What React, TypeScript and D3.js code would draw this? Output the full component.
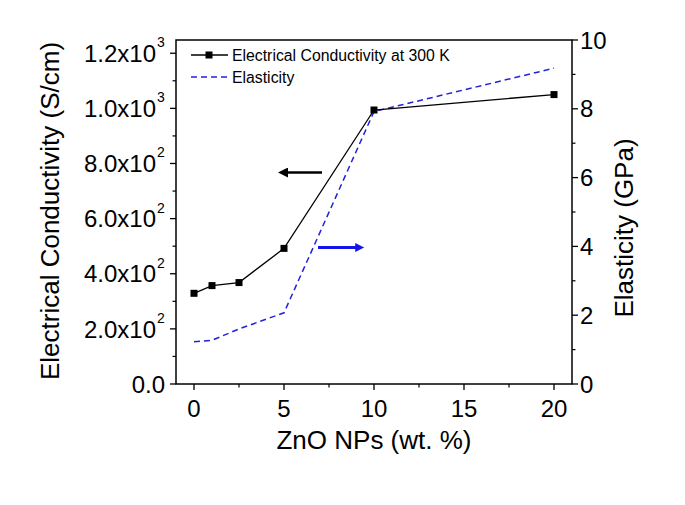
import React from "react";
import * as d3 from "d3";

const zno = [0, 1, 2.5, 5, 10, 20];
const conductivity = [329, 357, 368, 492, 994, 1050];
const elasticity = [1.23, 1.27, 1.6, 2.07, 7.92, 9.18];
const xTicks = [0, 5, 10, 15, 20];
const leftTicks = [0, 200, 400, 600, 800, 1000, 1200];
const leftTickLabels: [string, string][] = [
  ["0.0", ""],
  ["2.0x10", "2"],
  ["4.0x10", "2"],
  ["6.0x10", "2"],
  ["8.0x10", "2"],
  ["1.0x10", "3"],
  ["1.2x10", "3"],
];
const rightTicks = [0, 2, 4, 6, 8, 10];

const W = 685;
const H = 505;
const M = { left: 176, right: 572, top: 40, bottom: 384 };
const FONT = "Liberation Sans, Arial, sans-serif";

export default function App() {
  const x = d3.scaleLinear().domain([-1, 21]).range([M.left, M.right]);
  const yL = d3.scaleLinear().domain([0, 1248]).range([M.bottom, M.top]);
  const yR = d3.scaleLinear().domain([0, 10]).range([M.bottom, M.top]);

  const lineC = d3
    .line<number>()
    .x((_, i) => x(zno[i]))
    .y((d) => yL(d));
  const lineE = d3
    .line<number>()
    .x((_, i) => x(zno[i]))
    .y((d) => yR(d));

  const xMinor = d3.range(0, 21, 2.5).filter((v) => !xTicks.includes(v));
  const lMinor = d3.range(100, 1248, 200);
  const rMinor = d3.range(1, 10, 2);

  return (
    <svg
      width={W}
      height={H}
      style={{ position: "absolute", left: 0, top: 0, background: "#fff" }}
      fontFamily={FONT}
    >
      <defs>
        <marker id="ahB" viewBox="0 0 10 10" refX="2" refY="5" markerWidth="5" markerHeight="4" orient="auto" markerUnits="strokeWidth">
          <path d="M0,0 L10,5 L0,10 z" fill="#000" />
        </marker>
        <marker id="ahU" viewBox="0 0 10 10" refX="2" refY="5" markerWidth="4" markerHeight="3" orient="auto" markerUnits="strokeWidth">
          <path d="M0,0 L10,5 L0,10 z" fill="#1515e8" />
        </marker>
      </defs>
      <rect x={0} y={0} width={W} height={H} fill="#fff" />
      <rect
        x={M.left}
        y={M.top}
        width={M.right - M.left}
        height={M.bottom - M.top}
        fill="none"
        stroke="#000"
        strokeWidth={1.5}
      />
      {xTicks.map((t) => (
        <g key={"x" + t}>
          <line x1={x(t)} x2={x(t)} y1={M.bottom} y2={M.bottom + 6} stroke="#000" strokeWidth={1.3} />
          <text x={x(t)} y={417} fontSize={24} textAnchor="middle">
            {t}
          </text>
        </g>
      ))}
      {xMinor.map((t) => (
        <line key={"xm" + t} x1={x(t)} x2={x(t)} y1={M.bottom} y2={M.bottom + 3.5} stroke="#000" strokeWidth={1.2} />
      ))}
      {leftTicks.map((t, i) => (
        <g key={"l" + t}>
          <line x1={M.left - 6} x2={M.left} y1={yL(t)} y2={yL(t)} stroke="#000" strokeWidth={1.3} />
          <text x={leftTickLabels[i][1] ? 156 : 165} y={yL(t)} dy="0.36em" fontSize={24} textAnchor="end">
            {leftTickLabels[i][0]}
          </text>
          {leftTickLabels[i][1] && (
            <text x={157} y={yL(t) - 6} fontSize={14} textAnchor="start">
              {leftTickLabels[i][1]}
            </text>
          )}
        </g>
      ))}
      {lMinor.map((t) => (
        <line key={"lm" + t} x1={M.left - 3.5} x2={M.left} y1={yL(t)} y2={yL(t)} stroke="#000" strokeWidth={1.2} />
      ))}
      {rightTicks.map((t) => (
        <g key={"r" + t}>
          <line x1={M.right} x2={M.right + 6} y1={yR(t)} y2={yR(t)} stroke="#000" strokeWidth={1.3} />
          <text x={580} y={yR(t)} dy="0.36em" fontSize={24} textAnchor="start">
            {t}
          </text>
        </g>
      ))}
      {rMinor.map((t) => (
        <line key={"rm" + t} x1={M.right} x2={M.right + 3.5} y1={yR(t)} y2={yR(t)} stroke="#000" strokeWidth={1.2} />
      ))}
      <text x={374} y={449} fontSize={26} textAnchor="middle">
        ZnO NPs (wt. %)
      </text>
      <text transform={`translate(59,211) rotate(-90)`} fontSize={26} textAnchor="middle">
        Electrical Conductivity (S/cm)
      </text>
      <text transform={`translate(633,228) rotate(-90)`} fontSize={26} textAnchor="middle">
        Elasticity (GPa)
      </text>
      <path d={lineE(elasticity) || ""} fill="none" stroke="#2222dd" strokeWidth={1.5} strokeDasharray="6,4" />
      <path d={lineC(conductivity) || ""} fill="none" stroke="#000" strokeWidth={1.3} />
      {conductivity.map((v, i) => (
        <rect key={"p" + i} x={x(zno[i]) - 3.5} y={yL(v) - 3.5} width={7} height={7} fill="#000" />
      ))}
      <line x1={322} x2={286} y1={172.5} y2={172.5} stroke="#000" strokeWidth={2.5} markerEnd="url(#ahB)" />
      <line x1={318} x2={357} y1={247.5} y2={247.5} stroke="#1515e8" strokeWidth={3} markerEnd="url(#ahU)" />
      <line x1={191} x2={228} y1={55} y2={55} stroke="#000" strokeWidth={1.3} />
      <rect x={209 - 3.5} y={55 - 3.5} width={7} height={7} fill="#000" />
      <text x={232} y={60.5} fontSize={15.8}>
        Electrical Conductivity at 300 K
      </text>
      <line x1={191} x2={228} y1={77} y2={77} stroke="#2222dd" strokeWidth={1.5} strokeDasharray="6,4" />
      <text x={232} y={82.5} fontSize={15.8}>
        Elasticity
      </text>
    </svg>
  );
}
